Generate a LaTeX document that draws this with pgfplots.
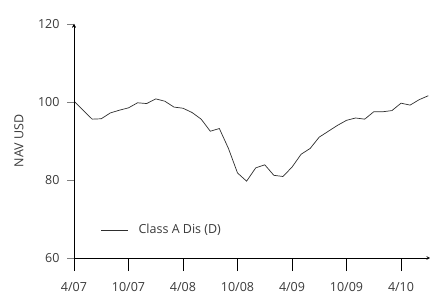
\documentclass[border=0pt]{standalone}
\usepackage{fontspec}
\setmainfont{Open Sans}
\usepackage{pgfplots}
\pgfplotsset{compat=1.18}
\definecolor{txt}{HTML}{3A3A3A}
\definecolor{ln}{HTML}{2E2E2E}
\pgfplotsset{
  common/.style={
    scale only axis,
    width=356pt, height=234pt,
    xmin=0, xmax=39.19, ymin=60, ymax=120,
    axis line style={-, black, line width=0.6pt},
    tick label style={font=\fontsize{12.5}{15}\selectfont, text=txt},
    /pgf/number format/assume math mode=true,
  }
}
\begin{document}
\begin{tikzpicture}
\begin{axis}[
  common,
  name=ax,
  axis x line=bottom, axis y line=left,
  tick align=outside,
  major tick length=13pt,
  xtick={0,6,12,18,24,30,36},
  xticklabels={4/07,10/07,4/08,10/08,4/09,10/09,4/10},
  ytick=\empty,
  x tick style={black, line width=0.6pt},
  xticklabel style={anchor=north, inner sep=0.5pt, yshift=-11pt},
  legend style={draw=none, fill=none, at={(0.075,0.12)}, anchor=west, font=\fontsize{12.5}{15}\selectfont, text=txt, inner sep=0pt},
  legend image code/.code={\draw[#1] (0pt,0pt) -- (27pt,0pt); \path (35pt,0pt);},
]
\addplot[ln, line width=0.7pt] coordinates {
(0,100.2) (1,97.9) (2,95.6) (3,95.7) (4,97.2) (5,97.9) (6,98.5) (7,99.8) (8,99.6) (9,100.8)
(10,100.2) (11,98.7) (12,98.4) (13,97.3) (14,95.6) (15,92.5) (16,93.2) (17,88.1) (18,81.8) (19,79.7)
(20,83.1) (21,83.9) (22,81.2) (23,80.9) (24,83.3) (25,86.6) (26,88.1) (27,91.0) (28,92.5) (29,94.0)
(30,95.3) (31,95.9) (32,95.6) (33,97.5) (34,97.5) (35,97.8) (36,99.7) (37,99.2) (38,100.6) (39,101.6)
};
\addlegendentry{Class A Dis (D)}
\end{axis}
\begin{axis}[
  common,
  axis x line=none, axis y line=left,
  tick align=outside,
  major tick length=7pt,
  xtick=\empty,
  ytick={60,80,100,120},
  y tick style={gray, line width=0.6pt},
  yticklabel style={anchor=east, xshift=-4pt},
  ylabel={NAV USD},
  every axis y label/.style={at={(axis description cs:-0.1545,0.5)}, rotate=90, anchor=center, font=\fontsize{12.5}{15}\selectfont, text=txt},
]
\end{axis}
\pgfresetboundingbox
\path[use as bounding box] ([shift={(-74pt,-36pt)}]ax.south west) rectangle ([shift={(0pt,24pt)}]ax.north east);
\end{tikzpicture}
\end{document}
